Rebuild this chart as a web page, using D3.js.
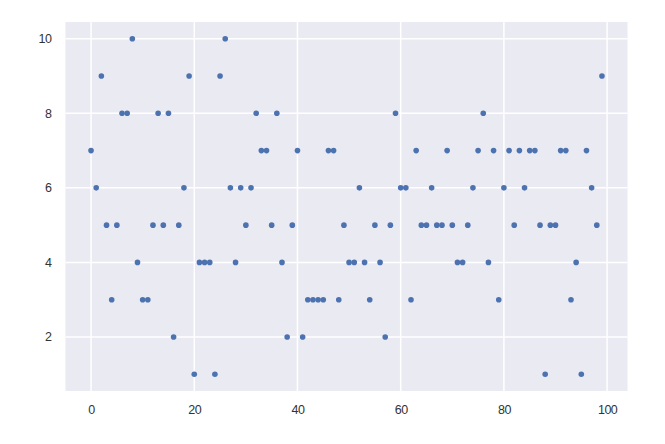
<!DOCTYPE html>
<html>
<head>
<meta charset="utf-8">
<script src="https://d3js.org/d3.v7.min.js"></script>
<style>
body { margin: 0; background: #fff; }
</style>
</head>
<body>
<div id="canvas"></div>
<script>

var width = 665;
var height = 444;

// values, one per index 0..99
var values = [7, 6, 9, 5, 3, 5, 8, 8, 10, 4,
              3, 3, 5, 8, 5, 8, 2, 5, 6, 9,
              1, 4, 4, 4, 1, 9, 10, 6, 4, 6,
              5, 6, 8, 7, 7, 5, 8, 4, 2, 5,
              7, 2, 3, 3, 3, 3, 7, 7, 3, 5,
              4, 4, 6, 4, 3, 5, 4, 2, 5, 8,
              6, 6, 3, 7, 5, 5, 6, 5, 5, 7,
              5, 4, 4, 5, 6, 7, 8, 4, 7, 3,
              6, 7, 5, 7, 6, 7, 7, 5, 1, 5,
              5, 7, 7, 3, 4, 1, 7, 6, 5, 9];
var xTicks = [0, 20, 40, 60, 80, 100];
var yTicks = [2, 4, 6, 8, 10];

// plot box in pixels ("top" is taken by window.top, so no plain names)
var plotLeft = 65.5, plotRight = 627.5, plotTop = 22, plotBottom = 391;

var svg = d3.select("#canvas").append("svg")
    .attr("width", width)
    .attr("height", height);

var x = d3.scaleLinear().domain([-4.95, 103.95]).range([plotLeft, plotRight]);
var y = d3.scaleLinear().domain([0.55, 10.45]).range([plotBottom, plotTop]);

svg.append("rect")
    .attr("x", plotLeft)
    .attr("y", plotTop)
    .attr("width", plotRight - plotLeft)
    .attr("height", plotBottom - plotTop)
    .attr("fill", "#EAEAF2");

// grid
svg.append("g").selectAll("line").data(xTicks).enter().append("line")
    .attr("x1", function(d) { return x(d); })
    .attr("x2", function(d) { return x(d); })
    .attr("y1", plotTop)
    .attr("y2", plotBottom)
    .attr("stroke", "#fff")
    .attr("stroke-width", 1.5);

svg.append("g").selectAll("line").data(yTicks).enter().append("line")
    .attr("x1", plotLeft)
    .attr("x2", plotRight)
    .attr("y1", function(d) { return y(d); })
    .attr("y2", function(d) { return y(d); })
    .attr("stroke", "#fff")
    .attr("stroke-width", 1.5);

// axes, only the labels
svg.append("g")
    .attr("transform", "translate(0," + plotBottom + ")")
    .call(d3.axisBottom(x).tickValues(xTicks).tickSize(0).tickPadding(14));
svg.append("g")
    .attr("transform", "translate(" + plotLeft + ",0)")
    .call(d3.axisLeft(y).tickValues(yTicks).tickSize(0).tickPadding(14));

svg.selectAll(".domain").remove();
svg.selectAll(".tick text")
    .attr("font-family", "'Liberation Sans', Arial, sans-serif")
    .attr("font-size", 12.5)
    .attr("letter-spacing", -0.5)
    .attr("fill", "#333");

// points
svg.append("g").selectAll("circle").data(values).enter().append("circle")
    .attr("cx", function(d, i) { return x(i); })
    .attr("cy", function(d) { return y(d); })
    .attr("r", 2.8)
    .attr("fill", "#4C72B0");

</script>
</body>
</html>
